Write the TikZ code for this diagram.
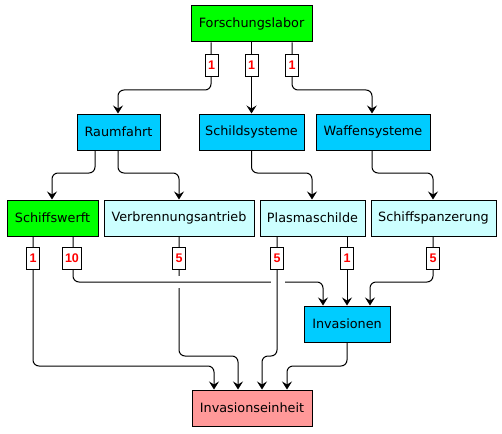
\documentclass[tikz,border=0pt]{standalone}
\usepackage{fontspec}
\setmainfont{DejaVu Sans}
\newfontfamily\lblfont{Liberation Sans}
\usetikzlibrary{arrows.meta}
\definecolor{cgreen}{HTML}{00FF00}
\definecolor{cblue}{HTML}{00CCFF}
\definecolor{ccyan}{HTML}{CCFFFF}
\definecolor{cpink}{HTML}{FF9999}
\begin{document}
\begin{tikzpicture}[x=1pt,y=-1pt,line width=1pt,
  box/.style={draw, line width=1pt, minimum height=36pt, inner sep=0pt, font=\fontsize{12.8}{15}\selectfont},
  lbl/.style={draw, fill=white, line width=0.9pt, text=red, font=\lblfont\fontsize{12.5}{14}\selectfont\bfseries, minimum height=22pt, minimum width=13pt, inner xsep=2.5pt, inner ysep=0pt},
  arr/.style={-{Stealth[length=8pt,width=10pt,inset=3pt]}, rounded corners=6pt, line width=1pt}]
\useasboundingbox (0,0) rectangle (502,433);
% nodes
\node[box, fill=cgreen, minimum width=121pt] (fl) at (251.5,24) {Forschungslabor};
\node[box, fill=cblue, minimum width=83pt] (rf) at (118.5,132) {Raumfahrt};
\node[box, fill=cblue, minimum width=105pt] (ss) at (251.5,132) {Schildsysteme};
\node[box, fill=cblue, minimum width=114pt] (ws) at (373,132) {Waffensysteme};
\node[box, fill=cgreen, minimum width=91pt] (sw) at (52.5,218) {Schiffswerft};
\node[box, fill=ccyan, minimum width=150pt] (vt) at (179,218) {Verbrennungsantrieb};
\node[box, fill=ccyan, minimum width=105pt] (pl) at (312.5,218) {Plasmaschilde};
\node[box, fill=ccyan, minimum width=125pt] (sp) at (433.5,218) {Schiffspanzerung};
\node[box, fill=cblue, minimum width=86pt] (inv) at (347,324) {Invasionen};
\node[box, fill=cpink, minimum width=120pt] (ie) at (252,408) {Invasionseinheit};
% edges top
\draw[arr] (fl.south -| 211,0) -- (211,90) -- (118,90) -- (rf.north -| 118,0);
\draw[arr] (fl.south -| 251.5,0) -- (ss.north);
\draw[arr] (fl.south -| 292,0) -- (292,90) -- (372,90) -- (ws.north -| 372,0);
\draw[arr] (rf.south -| 95,0) -- (95,173) -- (52,173) -- (sw.north -| 52,0);
\draw[arr] (rf.south -| 118,0) -- (118,173) -- (179,173) -- (vt.north);
\draw[arr] (ss.south) -- (251.5,173) -- (312,173) -- (pl.north -| 312,0);
\draw[arr] (ws.south -| 372,0) -- (372,173) -- (433,173) -- (sp.north -| 433,0);
% edges bottom
\draw[arr] (sw.south -| 33,0) -- (33,366) -- (214,366) -- (ie.north -| 214,0);
\draw[arr] (vt.south) -- (179,356) -- (238,356) -- (ie.north -| 238,0);
\draw[white, line width=3pt] (179,276) -- (179,288);
\draw[arr] (sw.south -| 73,0) -- (73,282) -- (323,282) -- (inv.north -| 323,0);
\draw[white, line width=3pt] (271,282) -- (285,282);
\draw[arr] (pl.south -| 277,0) -- (277,356) -- (262,356) -- (ie.north -| 262,0);
\draw[arr] (pl.south -| 347,0) -- (inv.north);
\draw[arr] (sp.south -| 433,0) -- (433,282) -- (370,282) -- (inv.north -| 370,0);
\draw[arr] (inv.south) -- (347,366) -- (287,366) -- (ie.north -| 287,0);
% labels
\node[lbl] (l1) at (211.5,65) {1};
\node[lbl] (l2) at (251.5,65) {1};
\node[lbl] (l3) at (292,65) {1};
\node[lbl] (l4) at (33,258.5) {1};
\node[lbl] (l5) at (72,258.5) {10};
\node[lbl] (l6) at (179,258.5) {5};
\node[lbl] (l7) at (277,258.5) {5};
\node[lbl] (l8) at (347,258.5) {1};
\node[lbl] (l9) at (433,258.5) {5};
\end{tikzpicture}
\end{document}
